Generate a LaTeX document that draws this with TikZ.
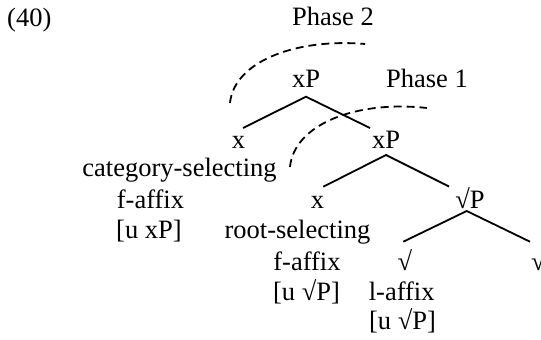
\documentclass[tikz,border=0pt]{standalone}
\usepackage{fontspec}
\setmainfont{Liberation Serif}
\begin{document}
\begin{tikzpicture}[x=1pt,y=-1pt,
  lbl/.style={anchor=base, inner sep=0pt, font=\fontsize{26.5}{30}\selectfont},
  branch/.style={line width=1.8pt},
  phasearc/.style={line width=1.8pt, dash pattern=on 8pt off 5pt}]
\useasboundingbox (0,0) rectangle (541,340);
% labels
\node[lbl, anchor=base west] (ex) at (7,26.5) {(40)};
\node[lbl] (ph2) at (333,25) {Phase 2};
\node[lbl] (ph1) at (427,87) {Phase 1};
\node[lbl] (xPa) at (306,87) {xP};
\node[lbl] (xa) at (238.5,148) {x};
\node[lbl] (xPb) at (386,148) {xP};
\node[lbl] (cat) at (179.5,176.5) {category-selecting};
\node[lbl] (faf1) at (150.5,208) {f-affix};
\node[lbl] (uxP) at (149,238.5) {[u xP]};
\node[lbl] (xb) at (317.5,208) {x};
\node[lbl] (rP) at (470,208) {√P};
\node[lbl] (root) at (297.5,238.5) {root-selecting};
\node[lbl] (faf2) at (307,270) {f-affix};
\node[lbl] (urP1) at (306.5,300) {[u √P]};
\node[lbl] (sq1) at (405,270) {√};
\node[lbl] (laf) at (401.7,300) {l-affix};
\node[lbl] (urP2) at (402.5,329.5) {[u √P]};
\node[lbl] (sq2) at (538.5,270) {√};
% branch end points
\coordinate (a1) at (306,96.7);
\coordinate (a1l) at (243,128);
\coordinate (a1r) at (370,128);
\coordinate (a2) at (386,155);
\coordinate (a2l) at (323.3,186.7);
\coordinate (a2r) at (449,186.5);
\coordinate (a3) at (466.7,211);
\coordinate (a3l) at (403.3,241.7);
\coordinate (a3r) at (530,241.7);
\draw[branch] (a1l) -- (a1) -- (a1r);
\draw[branch] (a2l) -- (a2) -- (a2r);
\draw[branch] (a3l) -- (a3) -- (a3r);
% phase arcs
\coordinate (p2s) at (230,103);
\coordinate (p2e) at (365,44);
\coordinate (p1s) at (290,167);
\coordinate (p1e) at (427,108);
\draw[phasearc] (p2s) .. controls (234,62) and (295,38) .. (p2e);
\draw[phasearc] (p1s) .. controls (294,125) and (355,100) .. (p1e);
\end{tikzpicture}
\end{document}
